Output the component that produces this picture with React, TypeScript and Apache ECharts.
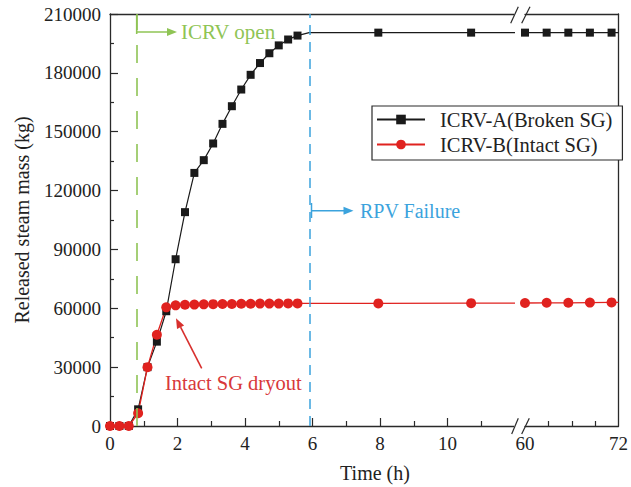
import React, { useEffect, useRef } from "react";
import * as echarts from "echarts";

// ---- Data (time in hours, released steam mass in kg) ----
const hoursEarlyA = [0, 0.278, 0.556, 0.833, 1.111, 1.389, 1.667, 1.944, 2.222, 2.5, 2.778, 3.056, 3.333, 3.611, 3.889, 4.167, 4.444, 4.722, 5.0, 5.278, 5.556];
const massEarlyA = [0, 0, 0, 8500, 30000, 43000, 58500, 85000, 109000, 129000, 135500, 144000, 154000, 163000, 171500, 179000, 185000, 190000, 194000, 197000, 199000];
const hoursLateA = [5.9, 7.95, 10.7, 12];
const massLateA = [200500, 200500, 200500, 200500];
const hoursTailA = [60, 62.78, 65.56, 68.33, 71.11, 72];
const massTailA = [200500, 200500, 200500, 200500, 200500, 200500];

const hoursEarlyB = [0, 0.278, 0.556, 0.833, 1.111, 1.389, 1.667, 1.944, 2.222, 2.5, 2.778, 3.056, 3.333, 3.611, 3.889, 4.167, 4.444, 4.722, 5.0, 5.278, 5.556];
const massEarlyB = [0, 0, 0, 6500, 30000, 46500, 60500, 61500, 61800, 61900, 62000, 62100, 62200, 62200, 62300, 62300, 62400, 62400, 62400, 62500, 62500];
const hoursLateB = [7.95, 10.7, 12];
const massLateB = [62500, 62600, 62600];
const hoursTailB = [60, 62.78, 65.56, 68.33, 71.11, 72];
const massTailB = [62700, 62800, 62800, 62900, 63000, 63000];

const icrvOpenTime = 0.79;
const rpvFailureTime = 5.92;

const seriesNames = ["ICRV-A(Broken SG)", "ICRV-B(Intact SG)"];
const yTicks = { min: 0, max: 210000, interval: 30000 };

const FONT = "Liberation Serif";
const BLACK = "#1a1a1a";
const RED = "#e0221f";
const GREEN = "#8fc455";
const BLUE = "#3ba3dd";
const AXIS = "#2a2a2a";

function pts(xs: number[], ys: number[], hiddenX: number[] = []) {
  return xs.map((x, i) =>
    hiddenX.includes(x) ? { value: [x, ys[i]], symbol: "none" } : { value: [x, ys[i]] }
  );
}

export default function App() {
  const ref = useRef<HTMLDivElement>(null);
  useEffect(() => {
    if (!ref.current) return;
    const chart = echarts.init(ref.current, undefined, { renderer: "svg" });
    const axisLine = { show: true, onZero: false, lineStyle: { color: AXIS, width: 1.3 } };
    const labelStyle = { fontFamily: FONT, fontSize: 19, color: "#222" };

    const dataA1 = pts(hoursEarlyA.concat(hoursLateA), massEarlyA.concat(massLateA), [5.9, 12]);
    const dataB1 = pts(hoursEarlyB.concat(hoursLateB), massEarlyB.concat(massLateB), [12]);
    const dataA2 = pts(hoursTailA, massTailA, [72]);
    const dataB2 = pts(hoursTailB, massTailB, [72]);

    const lineA = { color: BLACK, width: 1.2 };
    const lineB = { color: RED, width: 1.3 };

    const ax = 180.6, ay = 327.2;
    const txt = (text: string, x: number, y: number, fill: string, align = "left", size = 20) => ({
      type: "text", x, y,
      style: { text, fill, fontFamily: FONT, fontSize: size, align, verticalAlign: "middle" },
    });
    chart.setOption({
      animation: false,
      backgroundColor: "#fff",
      textStyle: { fontFamily: FONT },
      grid: [
        { left: 110, top: 14, width: 405, height: 412 },
        { left: 525, top: 14, width: 97.6, height: 412 },
      ],
      xAxis: [
        {
          gridIndex: 0, type: "value", min: 0, max: 12, interval: 2, position: "bottom",
          axisLine,
          axisTick: { show: true, inside: true, length: 8, customValues: [2, 4, 6, 8, 10], lineStyle: { color: AXIS, width: 1.2 } },
          minorTick: { show: true, splitNumber: 2, length: 5, lineStyle: { color: AXIS, width: 1.2 } },
          axisLabel: { ...labelStyle, margin: 8, formatter: (v: number) => (v === 12 ? "" : String(v)) },
          splitLine: { show: false },
        },
        {
          gridIndex: 0, type: "value", min: 0, max: 12, position: "top",
          axisLine, axisTick: { show: false }, axisLabel: { show: false }, splitLine: { show: false },
        },
        {
          gridIndex: 1, type: "value", min: 60, max: 72, interval: 3, position: "bottom",
          axisLine,
          axisTick: { show: true, inside: true, length: 5, customValues: [63, 66, 69], lineStyle: { color: AXIS, width: 1.2 } },
          axisLabel: { ...labelStyle, margin: 8, showMinLabel: true, showMaxLabel: true, formatter: (v: number) => (v === 60 || v === 72 ? String(v) : "") },
          splitLine: { show: false },
        },
        {
          gridIndex: 1, type: "value", min: 60, max: 72, position: "top",
          axisLine, axisTick: { show: false }, axisLabel: { show: false }, splitLine: { show: false },
        },
      ],
      yAxis: [
        {
          gridIndex: 0, type: "value", ...yTicks, position: "left",
          axisLine,
          axisTick: { show: true, inside: true, length: 8, lineStyle: { color: AXIS, width: 1.2 } },
          minorTick: { show: true, splitNumber: 2, length: 4, lineStyle: { color: AXIS, width: 1.2 } },
          axisLabel: { ...labelStyle, margin: 9, formatter: (v: number) => String(v) },
          splitLine: { show: false },
          name: "Released steam mass (kg)",
          nameLocation: "middle",
          nameGap: 78,
          nameTextStyle: { fontFamily: FONT, fontSize: 20, color: "#222" },
        },
        {
          gridIndex: 1, type: "value", ...yTicks, position: "right",
          axisLine, axisTick: { show: false }, axisLabel: { show: false }, splitLine: { show: false },
        },
      ],
      legend: {
        data: seriesNames,
        orient: "vertical",
        left: 372,
        top: 106,
        padding: [3, 10, 5, 4],
        itemGap: 4,
        itemWidth: 48,
        itemHeight: 12,
        borderColor: AXIS,
        borderWidth: 1.2,
        backgroundColor: "#fff",
        textStyle: { fontFamily: FONT, fontSize: 20.5, color: "#222", padding: [0, 0, 0, 10] },
      },
      series: [
        {
          name: seriesNames[0], type: "line", xAxisIndex: 0, yAxisIndex: 0, data: dataA1,
          symbol: "rect", symbolSize: 8, itemStyle: { color: BLACK }, lineStyle: lineA, clip: true,
          markLine: {
            silent: true, symbol: "none", label: { show: false },
            data: [
              { xAxis: icrvOpenTime, lineStyle: { color: GREEN, width: 1.6, type: [18, 15] } },
              { xAxis: rpvFailureTime, lineStyle: { color: BLUE, width: 1.5, type: [10, 7] } },
            ],
          },
        },
        {
          name: seriesNames[1], type: "line", xAxisIndex: 0, yAxisIndex: 0, data: dataB1,
          symbol: "circle", symbolSize: 10, itemStyle: { color: RED }, lineStyle: lineB, clip: true,
        },
        {
          name: seriesNames[0], type: "line", xAxisIndex: 2, yAxisIndex: 1, data: dataA2,
          symbol: "rect", symbolSize: 8, itemStyle: { color: BLACK }, lineStyle: lineA, clip: true,
        },
        {
          name: seriesNames[1], type: "line", xAxisIndex: 2, yAxisIndex: 1, data: dataB2,
          symbol: "circle", symbolSize: 10, itemStyle: { color: RED }, lineStyle: lineB, clip: true,
        },
      ],
      graphic: [
        // axis break marks
        { type: "rect", shape: { x: 514, y: 8, width: 10, height: 12 }, style: { fill: "#fff" }, z: 50 },
        { type: "line", shape: { x1: 510.7, y1: 23.3, x2: 518.3, y2: 6.7 }, style: { stroke: AXIS, lineWidth: 1.2 }, z: 51 },
        { type: "line", shape: { x1: 521.7, y1: 23.3, x2: 530, y2: 6.7 }, style: { stroke: AXIS, lineWidth: 1.2 }, z: 51 },
        { type: "rect", shape: { x: 514, y: 420, width: 10, height: 12 }, style: { fill: "#fff" }, z: 50 },
        { type: "line", shape: { x1: 511.7, y1: 434, x2: 518.3, y2: 418.3 }, style: { stroke: AXIS, lineWidth: 1.2 }, z: 51 },
        { type: "line", shape: { x1: 521.7, y1: 434, x2: 529.3, y2: 418.3 }, style: { stroke: AXIS, lineWidth: 1.2 }, z: 51 },
        // ICRV open annotation
        { type: "line", shape: { x1: 136.7, y1: 14, x2: 136.7, y2: 34 }, style: { stroke: GREEN, lineWidth: 1.6 } },
        { type: "line", shape: { x1: 136.7, y1: 32, x2: 168, y2: 32 }, style: { stroke: GREEN, lineWidth: 1.5 } },
        { type: "polygon", shape: { points: [[177, 32], [167, 28], [167, 36]] }, style: { fill: GREEN } },
        txt("ICRV open", 181, 32, GREEN, "left", 21),
        // RPV Failure annotation
        { type: "line", shape: { x1: 311.5, y1: 203, x2: 311.5, y2: 218 }, style: { stroke: BLUE, lineWidth: 1.5 } },
        { type: "line", shape: { x1: 311.5, y1: 210.7, x2: 345, y2: 210.7 }, style: { stroke: BLUE, lineWidth: 1.5 } },
        { type: "polygon", shape: { points: [[353.5, 210.7], [343.5, 206.7], [343.5, 214.7]] }, style: { fill: BLUE } },
        txt("RPV Failure", 360, 211, BLUE),
        // Intact SG dryout annotation
        { type: "line", shape: { x1: 201.7, y1: 368.3, x2: ax, y2: ay }, style: { stroke: "#d8302e", lineWidth: 1.6 } },
        { type: "polygon", shape: { points: [[176, 318.3], [184.1, 325.4], [177.0, 329.0]] }, style: { fill: "#d8302e" } },
        txt("Intact SG dryout", 165, 383, "#d8383a", "left", 20.5),
        // x axis title
        txt("Time (h)", 375, 473, "#222", "center"),
      ],
    });
    return () => chart.dispose();
  }, []);
  return (
    <div
      ref={ref}
      style={{ position: "absolute", left: 0, top: 0, width: 631, height: 487, background: "#fff" }}
    />
  );
}
